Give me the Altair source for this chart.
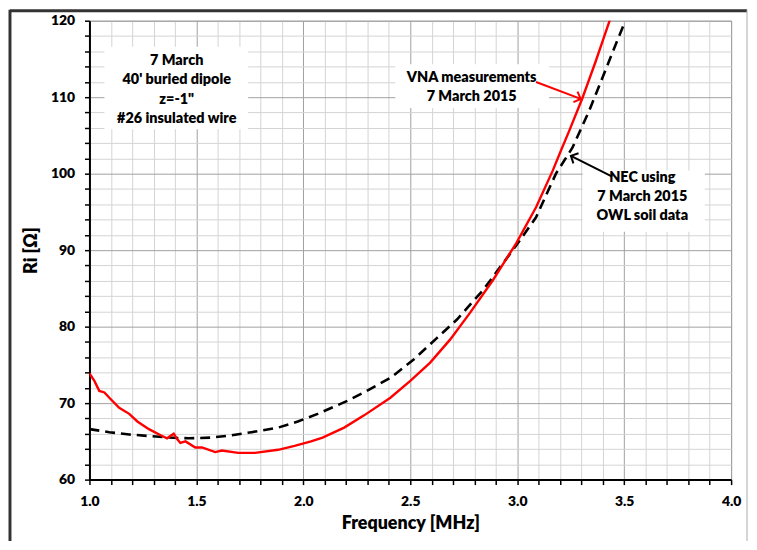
import altair as alt
import pandas as pd

# VNA measurements (red, solid)
freq_vna = [1.000, 1.023, 1.046, 1.070, 1.093, 1.139, 1.186, 1.224, 1.278, 1.333,
            1.363, 1.394, 1.410, 1.425, 1.449, 1.495, 1.526, 1.588, 1.619, 1.696,
            1.774, 1.882, 1.959, 2.036, 2.090, 2.191, 2.284, 2.407, 2.500, 2.593,
            2.686, 2.779, 2.887, 2.995, 3.088, 3.166, 3.204, 3.243, 3.305, 3.367,
            3.432, 3.460]
ri_vna = [73.9, 72.9, 71.6, 71.4, 70.7, 69.4, 68.6, 67.6, 66.6, 65.8,
          65.4, 66.0, 65.3, 64.8, 65.0, 64.2, 64.2, 63.6, 63.8, 63.5,
          63.5, 63.9, 64.4, 65.0, 65.5, 66.8, 68.4, 70.7, 72.9, 75.3,
          78.3, 81.8, 86.1, 90.9, 95.6, 100.4, 103.0, 105.6, 109.9, 114.7,
          120.0, 122.2]

# NEC model (black, dashed)
freq_nec = [1.000, 1.093, 1.186, 1.278, 1.371, 1.464, 1.572, 1.665, 1.758, 1.882,
            1.974, 2.067, 2.206, 2.284, 2.407, 2.516, 2.624, 2.717, 2.841, 2.995,
            3.088, 3.181, 3.258, 3.336, 3.398, 3.459, 3.500]
ri_nec = [66.6, 66.2, 65.9, 65.7, 65.5, 65.4, 65.5, 65.8, 66.2, 66.8,
          67.6, 68.6, 70.3, 71.4, 73.3, 75.7, 78.5, 80.9, 84.8, 90.6,
          94.3, 100.0, 103.4, 108.2, 112.5, 116.8, 119.6]

x_ticks = [round(1.0 + 0.1 * i, 1) for i in range(31)]
y_ticks = [60 + 2 * i for i in range(31)]

# annotation text (lines) in data coordinates
note_text = ["7 March", "40' buried dipole", "z=-1\"", "#26 insulated wire",
             "VNA measurements", "7 March 2015",
             "NEC using", "7 March 2015", "OWL soil data"]
note_x = [1.408, 1.408, 1.408, 1.408, 2.787, 2.787, 3.585, 3.585, 3.585]
note_y = [114.7, 112.2, 109.6, 107.2, 112.5, 110.0, 99.4, 96.9, 94.5]

box_x = [1.070, 2.430, 3.306]
box_x2 = [1.742, 3.149, 3.877]
box_y = [116.6, 114.3, 100.4]
box_y2 = [105.8, 108.6, 92.4]

arrow_x = [3.088, 3.444]
arrow_y = [111.99, 99.61]
arrow_x2 = [3.297, 3.251]
arrow_y2 = [109.78, 102.34]
arrow_angle = [111, 297]
arrow_color = ["red", "black"]

FONT = "Lato"

xscale = alt.Scale(domain=[1.0, 4.0], nice=False, zero=False)
yscale = alt.Scale(domain=[60, 120], nice=False, zero=False)

major_x = "round(datum.value*10) % 5 == 0"
major_y = "round(datum.value) % 10 == 0"

xaxis = alt.Axis(
    values=x_ticks, title="Frequency [MHz]",
    labelExpr=f"{major_x} ? format(datum.value, '.1f') : ''",
    grid=True,
    gridColor={"condition": {"test": major_x, "value": "#a0a0a0"}, "value": "#d4d4d4"},
    labelOverlap=False, labelFlush=False, labelPadding=10,
    titlePadding=6,
)
yaxis = alt.Axis(
    values=y_ticks, title="Ri [Ω]",
    labelExpr=f"{major_y} ? format(datum.value, 'd') : ''",
    grid=True,
    gridColor={"condition": {"test": major_y, "value": "#a0a0a0"}, "value": "#d4d4d4"},
    labelOverlap=False, labelFlush=False, labelPadding=10,
    titlePadding=10,
)

X = alt.X("f:Q", scale=xscale, axis=xaxis)
Y = alt.Y("r:Q", scale=yscale, axis=yaxis)

vna = pd.DataFrame({"f": freq_vna, "r": ri_vna})
nec = pd.DataFrame({"f": freq_nec, "r": ri_nec})
notes = pd.DataFrame({"t": note_text, "f": note_x, "r": note_y})
boxes = pd.DataFrame({"f": box_x, "f2": box_x2, "r": box_y, "r2": box_y2})
arrows = pd.DataFrame({"f": arrow_x, "r": arrow_y, "f2": arrow_x2, "r2": arrow_y2,
                       "a": arrow_angle, "c": arrow_color})

box_layer = alt.Chart(boxes).mark_rect(color="white").encode(
    x=X, x2="f2:Q", y=Y, y2="r2:Q")

nec_line = alt.Chart(nec).mark_line(color="black", strokeWidth=2.6,
                                    strokeDash=[10, 6], clip=True).encode(
    x=X, y=Y, order="f:Q")

vna_line = alt.Chart(vna).mark_line(color="#ff0000", strokeWidth=2.4, clip=True).encode(
    x=X, y=Y, order="f:Q")

arrow_lines = alt.Chart(arrows).mark_rule(strokeWidth=2).encode(
    x=X, y=Y, x2="f2:Q", y2="r2:Q",
    color=alt.Color("c:N", scale=None))

arrow_heads = alt.Chart(arrows).mark_point(
    shape="M-1,1L0,0L1,1", filled=False, strokeWidth=2, size=130, opacity=1
).encode(
    x=alt.X("f2:Q", scale=xscale, axis=xaxis),
    y=alt.Y("r2:Q", scale=yscale, axis=yaxis),
    angle=alt.Angle("a:Q", scale=None),
    color=alt.Color("c:N", scale=None))

note_layer = alt.Chart(notes).mark_text(
    font=FONT, fontSize=14.5, fontWeight=800, color="black",
    align="center", baseline="middle").encode(
    x=X, y=Y, text="t:N")

frame_df = pd.DataFrame({"a": [0]})
frame_left = alt.Chart(frame_df).mark_rule(color="#333333", strokeWidth=3).encode(
    x=alt.value(-80), y=alt.value(-11), y2=alt.value(535))
frame_top = alt.Chart(frame_df).mark_rule(color="#333333", strokeWidth=3).encode(
    x=alt.value(-80), x2=alt.value(662), y=alt.value(-10))
frame_right = alt.Chart(frame_df).mark_rule(color="#aaaaaa", strokeWidth=1).encode(
    x=alt.value(662), y=alt.value(-11), y2=alt.value(535))

chart = alt.layer(
    box_layer, nec_line, vna_line, arrow_lines, arrow_heads, note_layer,
    frame_left, frame_top, frame_right
).properties(
    width=646, height=462,
    padding={"left": 82, "top": 11, "right": 18, "bottom": 60},
    autosize=alt.AutoSizeParams(type="none"),
).configure_view(
    stroke="#a0a0a0", strokeWidth=1
).configure_axis(
    labelFont=FONT, labelFontSize=14, labelFontWeight=800, labelColor="black",
    titleFont=FONT, titleFontSize=18, titleFontWeight=800, titleColor="black",
    domainColor="black", domainWidth=2,
    tickColor="black", tickWidth=1.5, tickSize=5,
    gridWidth=1,
)

chart.save("out.html", embed_options={"renderer": "svg", "actions": False})
